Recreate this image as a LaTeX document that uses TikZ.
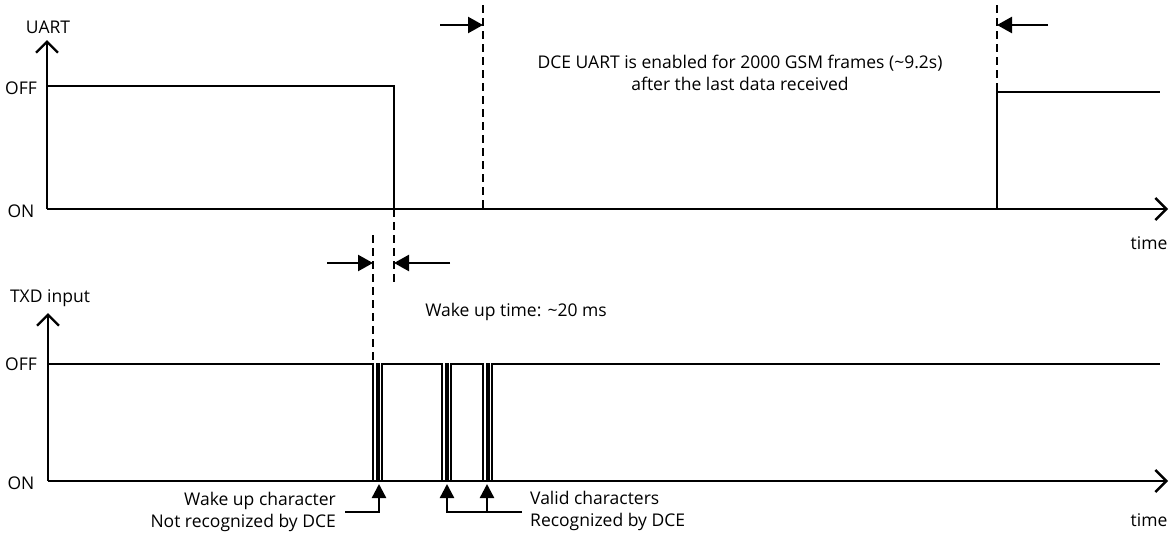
\documentclass[tikz,border=0pt]{standalone}
\usepackage{fontspec}
\setmainfont{Open Sans}
\usetikzlibrary{arrows.meta,positioning}

\tikzset{
  axis/.style={line width=2.4pt,-{Straight Barb[length=11pt,width=22pt,line width=2.4pt]}},
  signal/.style={line width=1.6pt},
  marker/.style={line width=1.8pt,dash pattern=on 8pt off 5pt},
  span/.style={line width=2.4pt,-{Triangle[length=15pt,width=16pt]}},
  pointer/.style={line width=2.4pt,-{Triangle[length=14pt,width=14pt]}},
  lbl/.style={inner sep=0pt,font=\fontsize{17.5}{21.5}\selectfont}
}

\begin{document}
\begin{tikzpicture}[x=1pt,y=1pt,yscale=-1,xscale=1]
\useasboundingbox (0,0) rectangle (1172,533);

% UART panel
\coordinate (uo) at (47,209);
\coordinate (uy) at (47,40);
\coordinate (ux) at (1168,209);
\draw [axis] (uo) -- (uy);
\draw [axis] (uo) -- (ux);
\node [lbl] (uart) at (48,27) {UART};
\node [lbl] (uoff) at (21,88) {OFF};
\node [lbl] (uon) at (21,211) {ON};
\node [lbl] (utime) at (1149,243) {time};

% UART level
\coordinate (uh) at (47,86);
\coordinate (ufall) at (394,86);
\coordinate (urise) at (997,92);
\draw [signal] (uh) -- (ufall) -- (ufall |- uo);
\draw [signal] (urise |- uo) -- (urise) -- (1160,92);

% enable window
\coordinate (wa) at (483,5);
\coordinate (wb) at (997,5);
\draw [marker] (wa) -- (wa |- uo);
\draw [marker] (wb) -- (urise);
\draw [span] (440,25) -- (wa |- 0,25);
\draw [span] (1048,25) -- (wb |- 0,25);
\node [lbl,align=center] (window) at (740,73) {DCE UART is enabled for 2000 GSM frames (\textasciitilde9.2s)\\after the last data received};

% TXD panel
\coordinate (to) at (48,481);
\coordinate (ty) at (48,313);
\coordinate (tx) at (1168,481);
\draw [axis] (to) -- (ty);
\draw [axis] (to) -- (tx);
\node [lbl] (txd) at (50,298) {TXD input};
\node [lbl] (toff) at (21,364) {OFF};
\node [lbl] (ton) at (21,483) {ON};
\node [lbl] (ttime) at (1149,520) {time};

% TXD level with characters
\draw [signal] (48,364) -- (373,364) -- (373,481) -- (377,481) -- (377,364) -- (379,364)
  -- (379,481) -- (382,481) -- (382,364) -- (442,364) -- (442,481) -- (446,481)
  -- (446,364) -- (448,364) -- (448,481) -- (451,481) -- (451,364) -- (483,364)
  -- (483,481) -- (487,481) -- (487,364) -- (489,364) -- (489,481) -- (492,481)
  -- (492,364) -- (1160,364);

% wake up time
\coordinate (ka) at (373,235);
\coordinate (kb) at (394,209);
\draw [marker] (ka) -- (373,362);
\draw [marker] (kb) -- (394,283);
\draw [span] (327,263) -- (ka |- 0,263);
\draw [span] (450,263) -- (kb |- 0,263);
\node [lbl] (waketime) at (516,312) {Wake up time: \textasciitilde20 ms};

% character pointers
\coordinate (c1) at (379,484);
\coordinate (c2) at (447,484);
\coordinate (c3) at (487,484);
\draw [pointer] (345,512) -- (c1 |- 0,512) -- (c1);
\draw [pointer] (522,512) -- (c2 |- 0,512) -- (c2);
\draw [pointer] (c3 |- 0,512) -- (c3);
\node [lbl,anchor=east,align=right] (wakechar) at (336,512) {Wake up character\\Not recognized by DCE};
\node [lbl,anchor=west,align=left] (validchar) at (530,511) {Valid characters\\Recognized by DCE};

\end{tikzpicture}
\end{document}
